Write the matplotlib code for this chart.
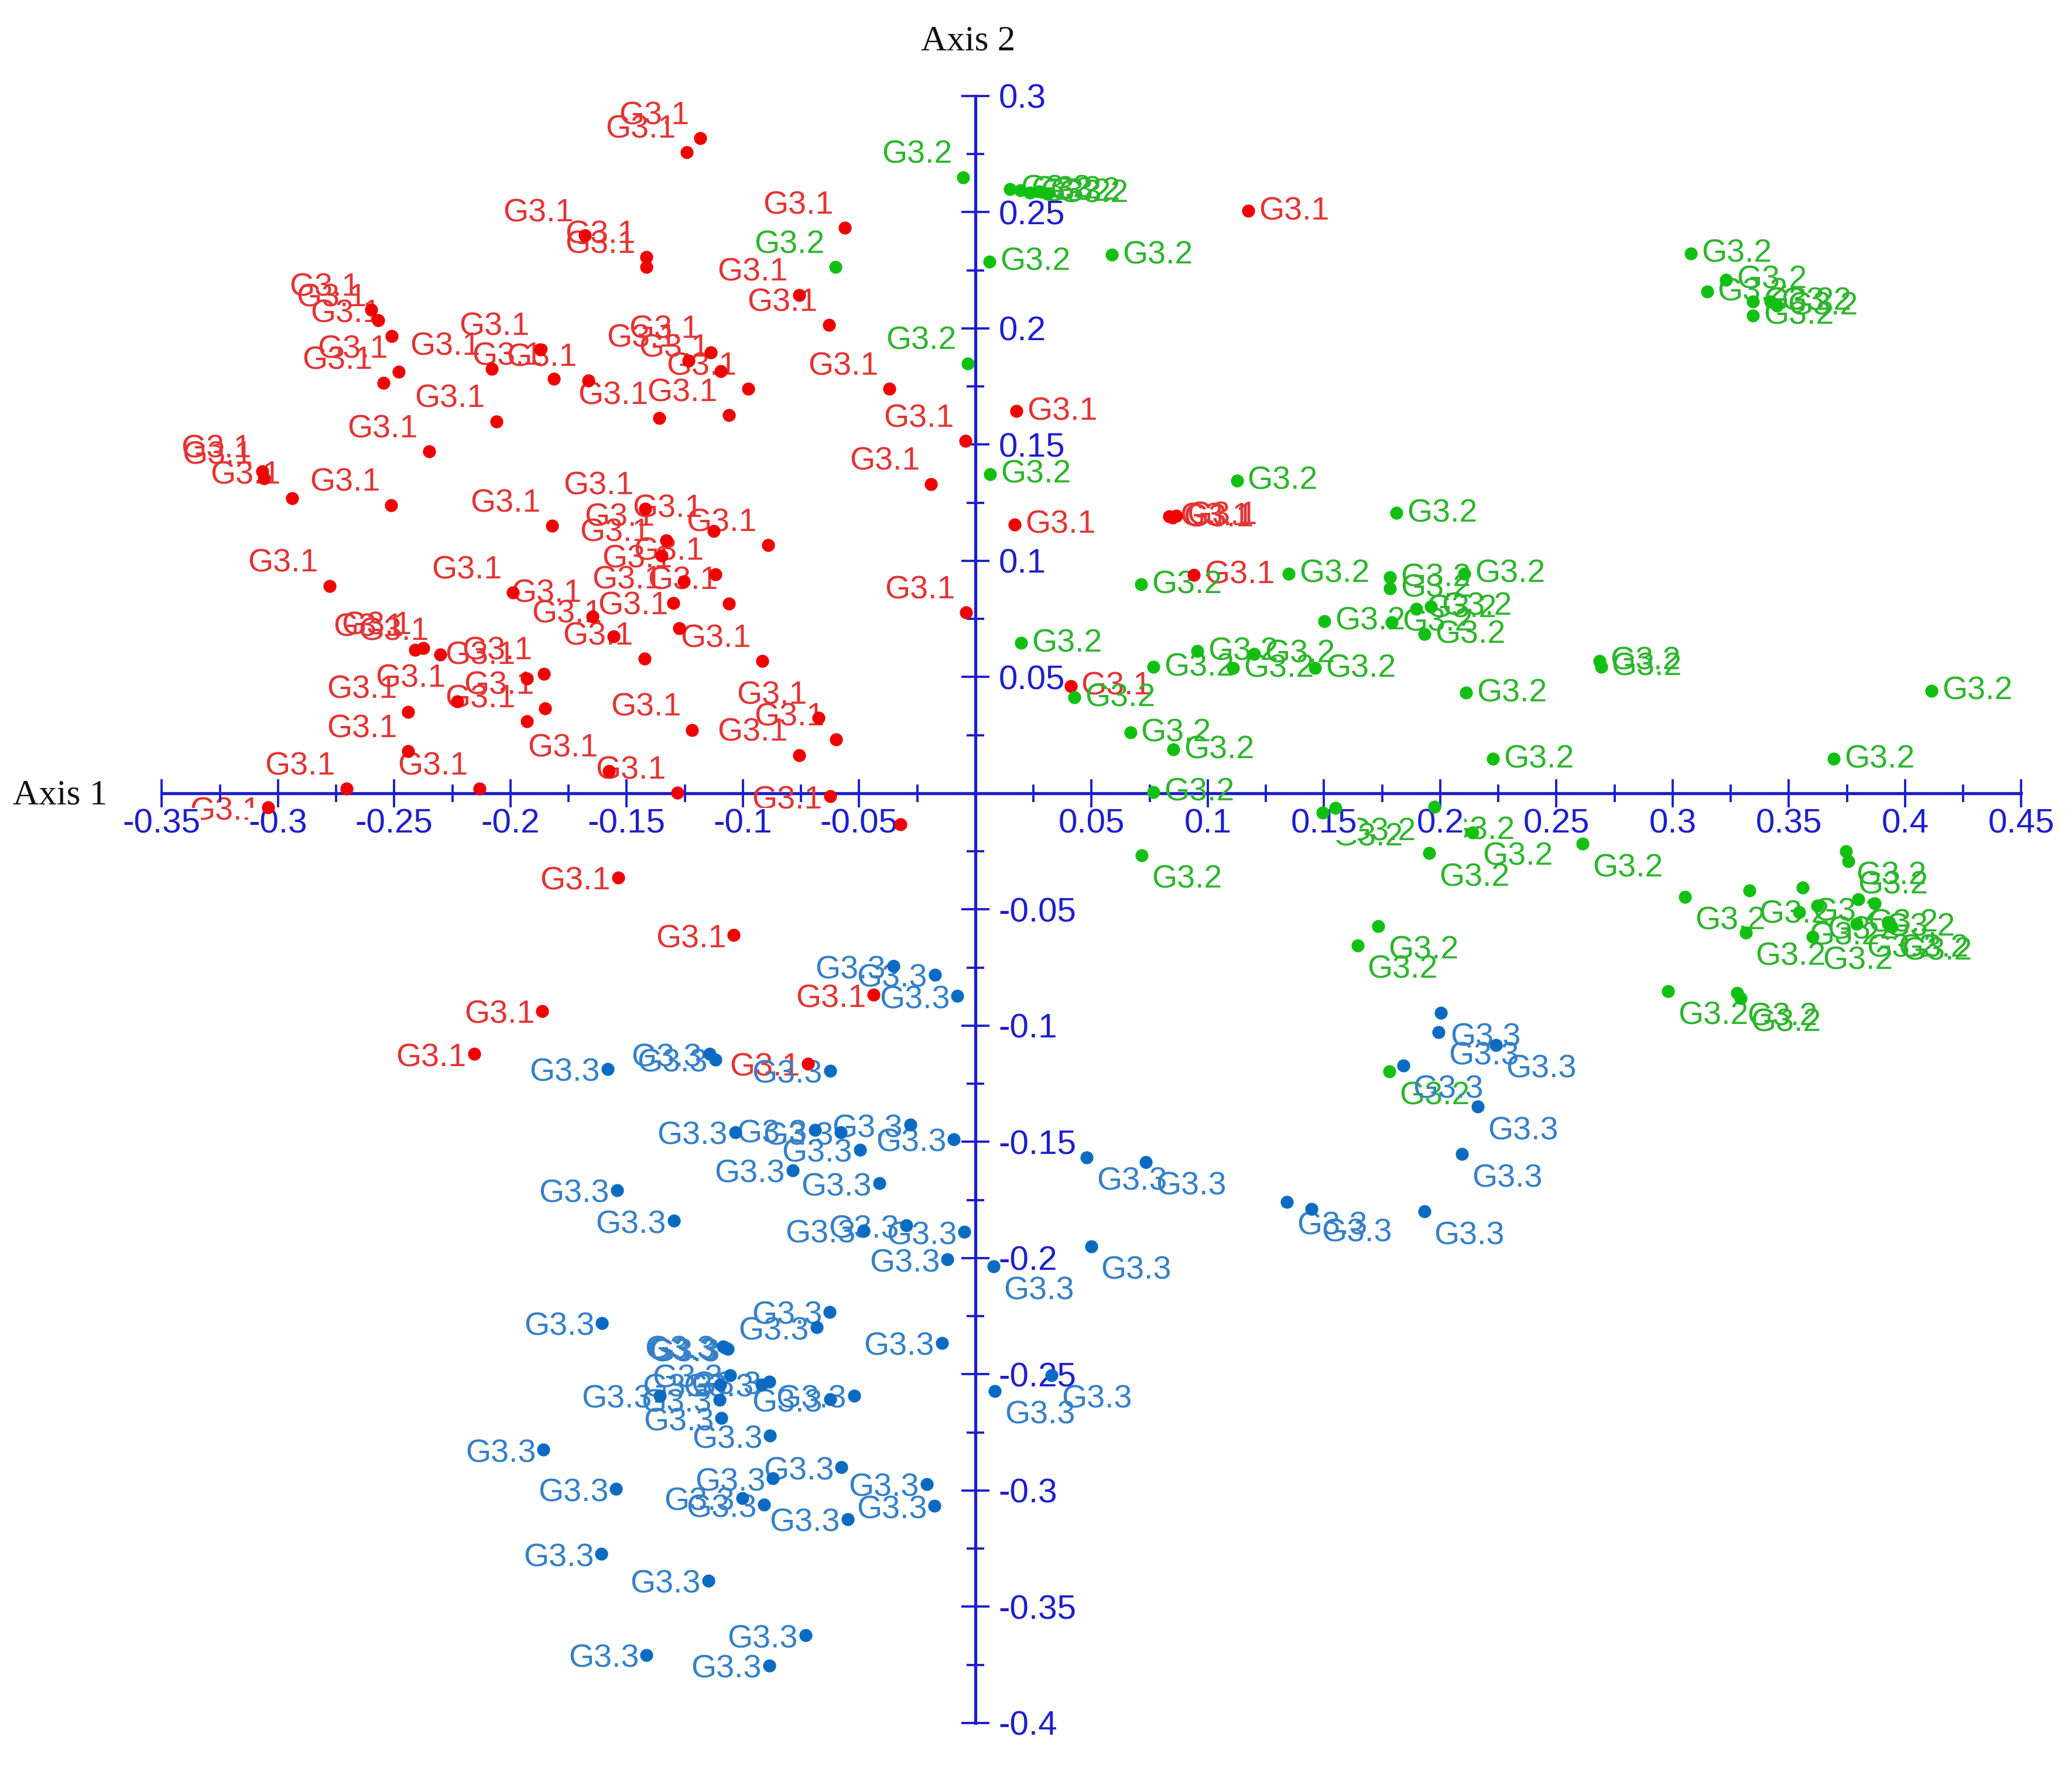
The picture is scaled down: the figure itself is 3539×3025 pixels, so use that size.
import matplotlib
matplotlib.use('Agg')
import matplotlib.pyplot as plt
import numpy as np
from matplotlib.ticker import FixedLocator, FuncFormatter

plt.rcParams['axes.unicode_minus'] = False
plt.rcParams['font.family'] = ['Liberation Sans', 'DejaVu Sans']

# ---------------- data ----------------
g31_x = [-0.260, -0.257, -0.251, -0.248, -0.2545, -0.208, -0.187, -0.1814, -0.206, -0.235,
         -0.3067, -0.306, -0.294, -0.2513, -0.1821,
         -0.1183, -0.1241, -0.0562, -0.0759, -0.1414, -0.1414, -0.168, -0.0630, 0.0177, -0.0043,
         -0.0190, -0.0369, -0.1138, -0.1234, -0.1096, -0.0977, -0.1359, -0.1061, -0.1665,
         -0.2778, -0.1989, -0.2411, -0.2375, -0.2302, -0.2230, -0.1929, -0.1856, -0.1929, -0.1850,
         -0.2440, -0.2440, -0.2705, -0.2133, -0.3043, -0.1863, -0.2157,
         -0.1421, -0.1125, -0.0891, -0.1330, -0.1350, -0.1118, -0.1254, -0.1299, -0.1059, -0.1646,
         -0.1556, -0.1273, -0.1423, -0.0917, -0.1218, -0.0675, -0.0600, -0.0759, -0.1576, -0.1282,
         -0.0624, -0.0322, -0.1536, -0.1039, -0.0437, -0.0720, 0.0170, -0.0039,
         0.1175, 0.0834, 0.0850, 0.0864, 0.0940, 0.0410]
g31_y = [0.208, 0.2035, 0.1966, 0.1813, 0.1765, 0.1825, 0.191, 0.1782, 0.160, 0.147,
         0.1385, 0.1355, 0.127, 0.124, 0.115,
         0.2818, 0.2758, 0.2433, 0.2144, 0.2306, 0.2264, 0.240, 0.2014, 0.1644, 0.1515,
         0.1331, 0.1740, 0.1897, 0.1861, 0.1816, 0.1740, 0.1614, 0.1626, 0.1776,
         0.0892, 0.0863, 0.0616, 0.0624, 0.0597, 0.0396, 0.0494, 0.0514, 0.0309, 0.0365,
         0.0349, 0.0180, 0.0019, 0.0019, -0.0061, -0.0937, -0.1122,
         0.1224, 0.1128, 0.1067, 0.1088, 0.1023, 0.0943, 0.0911, 0.0819, 0.0816, 0.0761,
         0.0674, 0.0710, 0.0578, 0.0568, 0.0273, 0.0324, 0.0231, 0.0164, 0.0096, 0.0002,
         -0.0013, -0.0134, -0.0363, -0.0611, -0.0868, -0.1163, 0.1156, 0.0778,
         0.2505, 0.1190, 0.1186, 0.1194, 0.0940, 0.0461]

g32_x = [-0.0052, -0.0601, -0.0033, 0.0060, 0.0064, 0.0587,
         0.0150, 0.0195, 0.0235, 0.0275, 0.0310,
         0.3079, 0.3230, 0.3148, 0.3346, 0.3421, 0.3448, 0.3346,
         0.1125, 0.1811, 0.1349, 0.0714, 0.1783, 0.1783, 0.2104, 0.1896, 0.1960, 0.1502,
         0.1791, 0.1933, 0.0198, 0.0955, 0.1199, 0.0766, 0.1108, 0.1461, 0.0426, 0.2112,
         0.0667, 0.0852, 0.2228, 0.0766, 0.1494, 0.1550, 0.1975,
         0.2685, 0.2692, 0.4114, 0.3694, 0.2613, 0.3054, 0.3329, 0.3560, 0.3747, 0.3755,
         0.3314, 0.3545, 0.3622, 0.3603, 0.3798, 0.3870, 0.3791, 0.3928, 0.3943, 0.2981,
         0.3278, 0.3292,
         0.2139, 0.1953, 0.1734, 0.1644, 0.1781, 0.0716]
g32_y = [0.2650, 0.2264, 0.1849, 0.2288, 0.1373, 0.2316,
         0.2600, 0.2595, 0.2585, 0.2590, 0.2580,
         0.2323, 0.2209, 0.2158, 0.2116, 0.2116, 0.2098, 0.2056,
         0.1346, 0.1206, 0.0945, 0.0898, 0.0929, 0.0882, 0.0945, 0.0794, 0.0804, 0.0741,
         0.0736, 0.0684, 0.0647, 0.0611, 0.0600, 0.0543, 0.0538, 0.0538, 0.0412, 0.0433,
         0.0261, 0.0188, 0.0148, 0.0005, -0.0084, -0.0063, -0.0058,
         0.0570, 0.0545, 0.0441, 0.0148, -0.0217, -0.0446, -0.0418, -0.0406, -0.0250, -0.0292,
         -0.0599, -0.0511, -0.0485, -0.0617, -0.0455, -0.0473, -0.0563, -0.0563, -0.0575, -0.0852,
         -0.0858, -0.0882,
         -0.0168, -0.0258, -0.0571, -0.0655, -0.1198, -0.0267]

g33_x = [-0.0352, -0.0174, -0.0077, -0.1582, -0.1144, -0.1118, -0.0624,
         -0.1032, -0.0690, -0.0578, -0.0280, -0.0497, -0.0092, -0.0786, -0.0413, -0.1542, -0.1297,
         -0.0481, -0.0296, -0.0047, -0.0120, 0.0078, -0.0626, -0.0682, -0.1606, -0.0143,
         -0.1065, -0.1086, -0.1075, -0.1054, -0.0887, -0.0919, -0.1097, -0.1357, -0.1101, -0.0624,
         -0.0522, -0.1092, -0.0883, 0.0084, 0.0328, -0.1858, -0.0576, -0.0870, -0.1545, -0.0209,
         -0.1002, -0.0908, -0.0175, -0.0549, -0.1608, -0.1148, -0.0730, -0.1414, -0.0887,
         0.0479, 0.0733, 0.0498,
         0.2002, 0.1993, 0.2240, 0.1841, 0.2161, 0.2094, 0.1340, 0.1447, 0.1931]
g33_y = [-0.0744, -0.0781, -0.0872, -0.1186, -0.1122, -0.1146, -0.1194,
         -0.1458, -0.1449, -0.1460, -0.1427, -0.1534, -0.1489, -0.1622, -0.1679, -0.1707, -0.1840,
         -0.1882, -0.1860, -0.1888, -0.2006, -0.2036, -0.2231, -0.2298, -0.2279, -0.2365,
         -0.2392, -0.2380, -0.2386, -0.2503, -0.2532, -0.2544, -0.2544, -0.2592, -0.2610, -0.2608,
         -0.2592, -0.2689, -0.2764, -0.2572, -0.2503, -0.2825, -0.2900, -0.2948, -0.2994, -0.2972,
         -0.3032, -0.3062, -0.3066, -0.3123, -0.3273, -0.3388, -0.3623, -0.3707, -0.3753,
         -0.1567, -0.1587, -0.1949,
         -0.0945, -0.1027, -0.1083, -0.1171, -0.1348, -0.1553, -0.1758, -0.1788, -0.1800]

group_names = ['G3.1', 'G3.2', 'G3.3']
x_ticks = list(np.round(np.arange(-0.35, 0.451, 0.05), 3))
y_ticks = list(np.round(np.arange(-0.40, 0.301, 0.05), 3))
x_axis_label = 'Axis 1'
y_axis_label = 'Axis 2'

# ---------------- style ----------------
AXC = '#1E1ECC'
dot_colors = ['#F00000', '#12C012', '#0B6BC2']
txt_colors = ['#E23434', '#2DB52D', '#3580C8']

fig = plt.figure(figsize=(35.39, 30.25), dpi=100)
ax = fig.add_axes([0, 0, 1, 1])
ax.set_xlim(-0.4196, 0.4718)
ax.set_ylim(-0.4207, 0.3413)
ax.set_facecolor('white')

ax.spines['top'].set_visible(False)
ax.spines['left'].set_visible(False)
ax.spines['bottom'].set_position(('data', 0))
ax.spines['bottom'].set_bounds(x_ticks[0], x_ticks[-1])
ax.spines['right'].set_position(('data', 0))
ax.spines['right'].set_bounds(y_ticks[0], y_ticks[-1])
for s in ('bottom', 'right'):
    ax.spines[s].set_color(AXC)
    ax.spines[s].set_linewidth(3.8)

ax.xaxis.tick_bottom()
ax.yaxis.tick_right()
ax.xaxis.set_major_locator(FixedLocator(x_ticks))
ax.yaxis.set_major_locator(FixedLocator(y_ticks))
xminor = [v + 0.025 for v in x_ticks[:-1]]
yminor = [v + 0.025 for v in y_ticks[:-1]]
ax.xaxis.set_minor_locator(FixedLocator(xminor))
ax.yaxis.set_minor_locator(FixedLocator(yminor))
fmt = FuncFormatter(lambda v, p: '' if abs(v) < 1e-9 else f'{v:g}')
ax.xaxis.set_major_formatter(fmt)
ax.yaxis.set_major_formatter(fmt)
ax.tick_params(which='major', direction='inout', length=35, width=2.8, color=AXC,
               labelsize=42, labelcolor=AXC)
ax.tick_params(which='minor', direction='inout', length=21, width=2.8, color=AXC)
ax.tick_params(axis='x', which='major', pad=1)
ax.tick_params(axis='y', which='major', pad=11)

# tick labels sit above the point labels, on a white ground
for t in ax.xaxis.get_major_ticks() + ax.yaxis.get_major_ticks():
    t.label1.set_bbox(dict(facecolor='white', edgecolor='none', pad=0.5))
ax.xaxis.set_zorder(3.5)
ax.yaxis.set_zorder(3.5)

# label offsets (points) by quadrant
def place(x, y):
    if x < 0 and y >= 0:
        return (-13.7, 17.3), 'right'
    if x < 0 and y < 0:
        return (-9.4, -15.1), 'right'
    if x >= 0 and y >= 0:
        return (13.0, -10.8), 'left'
    return (12.2, -40.3), 'left'

groups = [(g31_x, g31_y), (g32_x, g32_y), (g33_x, g33_y)]
for gi, (xs, ys) in enumerate(groups):
    ax.plot(xs, ys, 'o', linestyle='none', ms=16, color=dot_colors[gi], mec='none', zorder=4)
    for x, y in zip(xs, ys):
        off, ha = place(x, y)
        ax.annotate(group_names[gi], (x, y), xytext=off, textcoords='offset points',
                    ha=ha, va='baseline', fontsize=40, color=txt_colors[gi], zorder=3)

fig.text(22 / 3539, 1 - 1374 / 3025, x_axis_label, ha='left', va='baseline',
         fontsize=44, family=['Liberation Serif', 'DejaVu Serif'], color='#111111')
fig.text(1654 / 3539, 1 - 86 / 3025, y_axis_label, ha='center', va='baseline',
         fontsize=44, family=['Liberation Serif', 'DejaVu Serif'], color='#111111')

fig.savefig('out.png', dpi=100, facecolor='white')
